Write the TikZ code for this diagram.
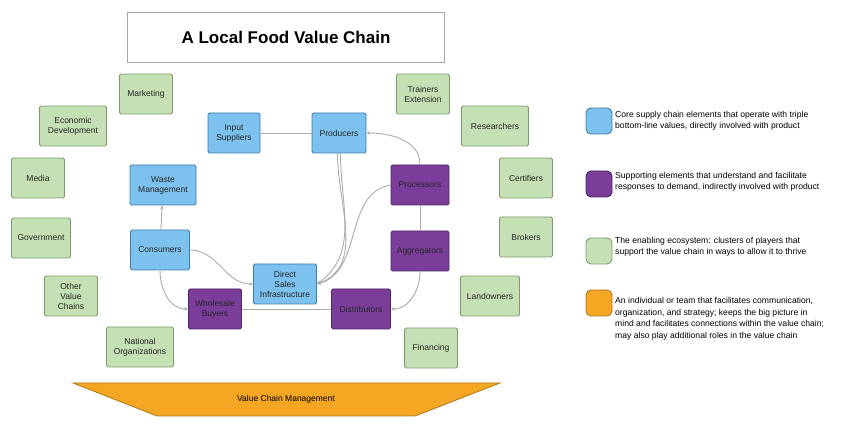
\documentclass[tikz,border=0pt]{standalone}
\usepackage{fontspec}
\setmainfont{Liberation Sans}
\usetikzlibrary{arrows.meta,positioning}
\definecolor{coreblue}{HTML}{7DC2EE}
\definecolor{corebluedark}{HTML}{3F7DAE}
\definecolor{supportpurple}{HTML}{7A3E9A}
\definecolor{supportpurpledark}{HTML}{4E2566}
\definecolor{enablergreen}{HTML}{C5E0B4}
\definecolor{enablergreendark}{HTML}{7E9C6A}
\definecolor{mgmtorange}{HTML}{F5A623}
\definecolor{mgmtorangedark}{HTML}{B07818}
\tikzset{
	box/.style = {
		minimum height  = 40pt,
		inner sep       = 1pt,
		align           = center,
		rounded corners = 1.5pt,
		line width      = 0.8pt,
		text            = black!85,
		font            = \fontsize{8.5}{10}\selectfont
	},
	core/.style    = {box, fill = coreblue, draw = corebluedark},
	support/.style = {box, fill = supportpurple, draw = supportpurpledark},
	enabler/.style = {box, fill = enablergreen, draw = enablergreendark},
	heading/.style = {
		draw = gray!70,
		line width     = 0.8pt,
		minimum width  = 317pt,
		minimum height = 50pt,
		font           = \bfseries\fontsize{17}{20}\selectfont
	},
	link/.style      = {draw = gray!65, line width = 0.9pt},
	tip/.style       = {-{Stealth[length = 4pt, width = 3.5pt]}},
	legendkey/.style = {minimum size = 26pt, rounded corners = 5pt, line width = 0.9pt},
	legendtext/.style = {
		anchor = west,
		align  = left,
		inner sep = 0pt,
		font   = \fontsize{8.6}{11.5}\selectfont
	}
}

\begin{document}
\begin{tikzpicture}[x = 1pt, y = -1pt]
	\useasboundingbox[fill = white] (0,0) rectangle (860,430);
	% title
	\node(title) [heading] at (286,37) {A Local Food Value Chain};
	% enabling ecosystem
	\foreach \n/\x/\y/\w/\t in {
		mkt/146/94/53/Marketing, eco/73/126/67/{Economic\\Development},
		med/38/178/53/Media, gov/41/238/59/Government,
		oth/71/296/53/{Other\\Value\\Chains}, nat/140/347/67/{National\\Organizations},
		trn/423/94/53/{Trainers\\Extension}, res/495/126/67/Researchers,
		cer/526/178/53/Certifiers, bro/526/237/53/Brokers,
		lan/490/296/59/Landowners, fin/431/348/53/Financing}
		\node(\n) [enabler, minimum width = \w pt] at (\x,\y) {\t};
	% core supply chain
	\foreach \n/\x/\y/\w/\t in {
		ins/234/133/52/{Input\\Suppliers}, pro/339/133/54/Producers,
		was/163/185/66/{Waste\\Management}, con/160/250/59/Consumers,
		dsi/285/284/63/{Direct\\Sales\\Infrastructure}}
		\node(\n) [core, minimum width = \w pt] at (\x,\y) {\t};
	% supporting elements
	\foreach \n/\x/\y/\w/\t in {
		prc/420/185/58/Processors, agg/420/251/58/Aggregators,
		dis/361/309/59/Distributors, whb/215/309/53/{Wholesale\\Buyers}}
		\node(\n) [support, minimum width = \w pt] at (\x,\y) {\t};
	% connections
	\draw[link] (ins) -- (pro);
	\draw[link, tip] (prc.north) to[out = 90, in = 0] (pro.east);
	\draw[link, tip] ([xshift = -1.5pt]pro.south) to[out = -90, in = 20] (dsi.east);
	\draw[link, tip] ([xshift = 1.5pt]pro.south) to[out = -90, in = 35] (dsi.east);
	\draw[link, tip] (prc.west) to[out = 190, in = 15] (dsi.east);
	\draw[link] (prc) -- (agg);
	\draw[link, tip] (agg.south) to[out = -90, in = 0] (dis.east);
	\draw[link] (dis) -- (whb);
	\draw[link, tip] (con.south) to[out = -90, in = 180] (whb.west);
	\draw[link, tip] (con.east) to[out = 0, in = 180] (dsi.west);
	\draw[link, tip] (con) -- (was);
	% value chain management
	\path[fill = mgmtorange, draw = mgmtorangedark, line width = 0.8pt]
		(73,383) -- (500,383) -- (415,416) -- (157,416) -- cycle;
	\node(vcm) at (286,399) [font = \fontsize{8.5}{10}\selectfont] {Value Chain Management};
	% legend
	\foreach \n/\y/\ty/\f/\d/\t in {
		lcore/121/121/coreblue/corebluedark/{Core supply chain elements that operate with triple\\bottom-line values, directly involved with product},
		lsupp/184/182/supportpurple/supportpurpledark/{Supporting elements that understand and facilitate\\responses to demand, indirectly involved with product},
		lenab/251/247/enablergreen/enablergreendark/{The enabling ecosystem: clusters of players that\\support the value chain in ways to allow it to thrive},
		lmgmt/303/319/mgmtorange/mgmtorangedark/{An individual or team that facilitates communication,\\organization, and strategy; keeps the big picture in\\mind and facilitates connections within the value chain;\\may also play additional roles in the value chain}}
	{
		\node(\n) [legendkey, fill = \f, draw = \d] at (599,\y) {};
		\node(\n-text) [legendtext] at (615,\ty) {\t};
	}
\end{tikzpicture}
\end{document}
